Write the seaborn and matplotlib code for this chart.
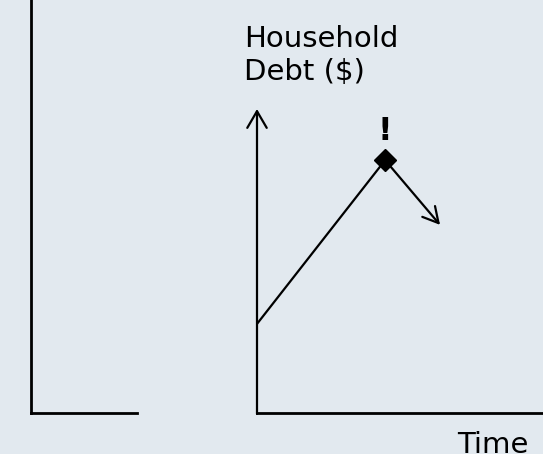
import seaborn as sns
import matplotlib.pyplot as plt
import pandas as pd

# dati (assi normalizzati 0-1)
tempo = [0.0, 0.448]          # tratto in salita
debito = [0.296, 0.84]
picco_tempo = 0.448            # punto "!"
picco_debito = 0.84
fine_tempo = 0.64              # fine della freccia in discesa
fine_debito = 0.625

etichetta_y = 'Household\nDebt ($)'
etichetta_x = 'Time'
sfondo = '#e2e9ef'

sns.set_theme(style='white')
plt.rcParams['font.family'] = ['DejaVu Sans']

fig = plt.figure(figsize=(5.43, 4.54), dpi=100)
fig.patch.set_facecolor(sfondo)

# pannello di sinistra (vuoto, tagliato)
ax_l = fig.add_axes([31 / 543, 41 / 454, 106 / 543, 413 / 454])
ax_l.set_facecolor('none')
for lato in ['top', 'right']:
    ax_l.spines[lato].set_visible(False)
for lato in ['left', 'bottom']:
    ax_l.spines[lato].set_color('black')
    ax_l.spines[lato].set_linewidth(2)
ax_l.set_xticks([])
ax_l.set_yticks([])

# pannello principale
ax = fig.add_axes([257 / 543, 41 / 454, 286 / 543, 301 / 454])
ax.set_facecolor('none')
ax.set_xlim(0, 1)
ax.set_ylim(0, 1)
for lato in ['top', 'right', 'left']:
    ax.spines[lato].set_visible(False)
ax.spines['bottom'].set_color('black')
ax.spines['bottom'].set_linewidth(2)
ax.set_xticks([])
ax.set_yticks([])

# asse y con freccia
ax.annotate('', xy=(0, 1.01), xytext=(0, -0.003), xycoords='axes fraction',
            arrowprops=dict(arrowstyle='->,head_length=0.6,head_width=0.35',
                            color='black', lw=1.6, mutation_scale=20,
                            shrinkA=0, shrinkB=0), annotation_clip=False)

df = pd.DataFrame({'Tempo': tempo, 'Debito': debito})
sns.lineplot(data=df, x='Tempo', y='Debito', ax=ax, color='black', linewidth=1.6)

# freccia in discesa dopo il picco
ax.annotate('', xy=(fine_tempo, fine_debito), xytext=(picco_tempo, picco_debito),
            arrowprops=dict(arrowstyle='->,head_length=0.55,head_width=0.3',
                            color='black', lw=1.6, mutation_scale=20,
                            shrinkA=0, shrinkB=0))

ax.plot([picco_tempo], [picco_debito], marker='D', markersize=11,
        color='black', linestyle='none', zorder=5)
ax.annotate('!', xy=(picco_tempo, picco_debito), xytext=(0, 14.5),
            textcoords='offset points', ha='center', va='baseline',
            fontsize=23, fontweight='bold', color='black')

ax.set_xlabel('')
ax.set_ylabel('')

fig.text(244 / 543, 1 - 25 / 454, etichetta_y, ha='left', va='top',
         fontsize=21, linespacing=1.25, color='black')
fig.text(457 / 543, 1 / 454, etichetta_x, ha='left', va='baseline',
         fontsize=21, color='black')

plt.savefig('out.png', dpi=100, facecolor=sfondo)
plt.close()
